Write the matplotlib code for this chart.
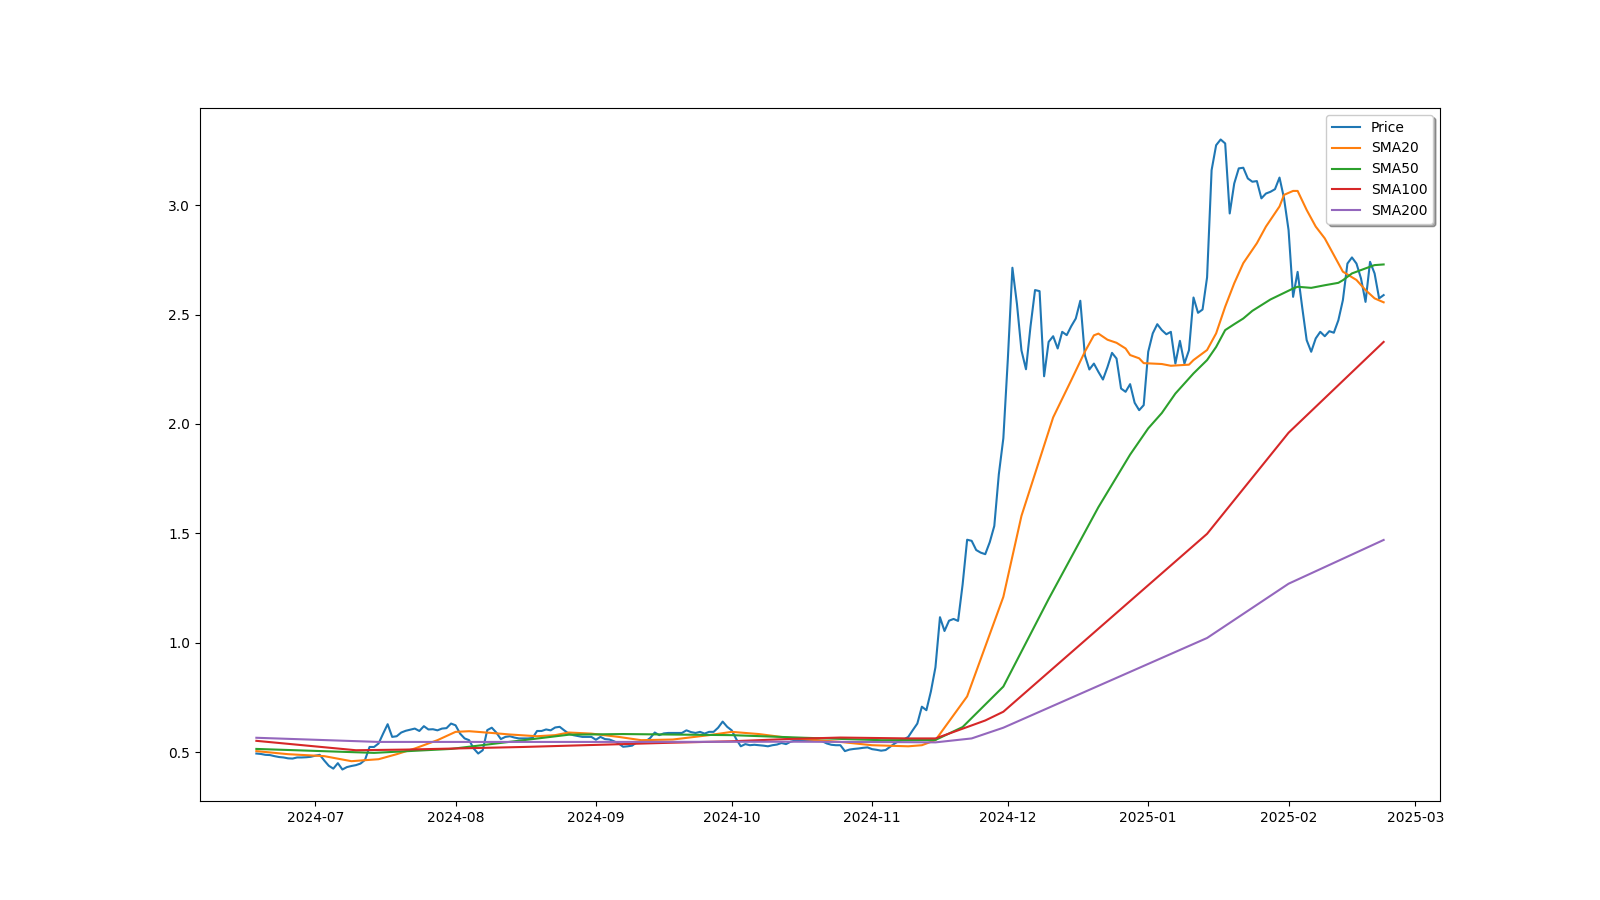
import matplotlib
matplotlib.use("Agg")
import matplotlib.pyplot as plt
import pandas as pd

start_date = "2024-06-18"
price = [
    0.494, 0.492, 0.488, 0.487, 0.482, 0.478, 0.476, 0.472, 0.471, 0.476,
    0.476, 0.477, 0.479, 0.484, 0.488, 0.462, 0.438, 0.425, 0.450, 0.421,
    0.432, 0.437, 0.441, 0.448, 0.465, 0.524, 0.524, 0.540, 0.585, 0.628,
    0.570, 0.573, 0.590, 0.598, 0.603, 0.608, 0.597, 0.619, 0.604, 0.605,
    0.600, 0.608, 0.610, 0.631, 0.623, 0.585, 0.563, 0.555, 0.517, 0.494,
    0.509, 0.601, 0.612, 0.590, 0.560, 0.570, 0.573, 0.567, 0.563, 0.563,
    0.563, 0.565, 0.597, 0.597, 0.604, 0.600, 0.613, 0.616, 0.600, 0.585,
    0.578, 0.574, 0.570, 0.570, 0.570, 0.557, 0.570, 0.560, 0.558, 0.550,
    0.540, 0.525, 0.527, 0.530, 0.545, 0.547, 0.550, 0.565, 0.590, 0.578,
    0.586, 0.588, 0.588, 0.588, 0.588, 0.600, 0.592, 0.588, 0.593, 0.585,
    0.593, 0.593, 0.612, 0.640, 0.616, 0.600, 0.560, 0.527, 0.537, 0.532,
    0.534, 0.532, 0.530, 0.527, 0.532, 0.535, 0.542, 0.537, 0.548, 0.553,
    0.556, 0.553, 0.555, 0.556, 0.553, 0.550, 0.540, 0.534, 0.532, 0.532,
    0.505, 0.512, 0.515, 0.517, 0.520, 0.522, 0.514, 0.511, 0.507, 0.510,
    0.525, 0.540, 0.552, 0.558, 0.570, 0.601, 0.631, 0.708, 0.692, 0.778,
    0.888, 1.117, 1.054, 1.101, 1.109, 1.100, 1.266, 1.471, 1.466, 1.424,
    1.412, 1.405, 1.460, 1.534, 1.770, 1.935, 2.300, 2.714, 2.549, 2.336,
    2.250, 2.446, 2.612, 2.607, 2.218, 2.375, 2.401, 2.345, 2.421, 2.406,
    2.447, 2.482, 2.563, 2.314, 2.249, 2.276, 2.238, 2.203, 2.260, 2.325,
    2.299, 2.162, 2.147, 2.182, 2.097, 2.063, 2.086, 2.330, 2.414, 2.456,
    2.429, 2.410, 2.421, 2.276, 2.380, 2.276, 2.337, 2.578, 2.508, 2.523,
    2.670, 3.160, 3.274, 3.300, 3.282, 2.962, 3.099, 3.168, 3.171, 3.122,
    3.107, 3.110, 3.031, 3.053, 3.061, 3.073, 3.126, 3.031, 2.886, 2.581,
    2.695, 2.535, 2.383, 2.330, 2.391, 2.421, 2.401, 2.424, 2.417, 2.474,
    2.566, 2.733, 2.761, 2.733, 2.665, 2.558, 2.741, 2.688, 2.574, 2.589,
]

sma20_dates = [
    "2024-06-18", "2024-06-25", "2024-07-03", "2024-07-09", "2024-07-15", "2024-07-19",
    "2024-07-23", "2024-07-28", "2024-08-01", "2024-08-04", "2024-08-09", "2024-08-13",
    "2024-08-19", "2024-08-23", "2024-08-26", "2024-08-31", "2024-09-06", "2024-09-11",
    "2024-09-18", "2024-09-26", "2024-10-01", "2024-10-07", "2024-10-13", "2024-10-18",
    "2024-10-25", "2024-11-01", "2024-11-09", "2024-11-12", "2024-11-15", "2024-11-22",
    "2024-11-30", "2024-12-04", "2024-12-11", "2024-12-15", "2024-12-18", "2024-12-20",
    "2024-12-21", "2024-12-23", "2024-12-25", "2024-12-27", "2024-12-28", "2024-12-30",
    "2024-12-31", "2025-01-04", "2025-01-06", "2025-01-10", "2025-01-11", "2025-01-14",
    "2025-01-16", "2025-01-18", "2025-01-20", "2025-01-22", "2025-01-25", "2025-01-27",
    "2025-01-30", "2025-01-31", "2025-02-02", "2025-02-03", "2025-02-05", "2025-02-07",
    "2025-02-09", "2025-02-11", "2025-02-13", "2025-02-16", "2025-02-18", "2025-02-20",
    "2025-02-22",
]
sma20 = [
    0.505, 0.491, 0.482, 0.459, 0.468, 0.491,
    0.517, 0.555, 0.593, 0.596, 0.588, 0.581,
    0.573, 0.578, 0.590, 0.585, 0.570, 0.555,
    0.558, 0.578, 0.593, 0.583, 0.567, 0.558,
    0.547, 0.532, 0.527, 0.532, 0.555, 0.755,
    1.210, 1.580, 2.030, 2.200, 2.330, 2.405,
    2.413, 2.385, 2.371, 2.345, 2.315, 2.300,
    2.278, 2.274, 2.266, 2.271, 2.292, 2.338,
    2.414, 2.536, 2.643, 2.735, 2.826, 2.902,
    2.994, 3.047, 3.065, 3.065, 2.978, 2.902,
    2.848, 2.772, 2.696, 2.658, 2.612, 2.574,
    2.556,
]

sma50_dates = [
    "2024-06-18", "2024-07-14", "2024-07-31", "2024-08-16", "2024-08-26", "2024-09-07",
    "2024-10-01", "2024-10-17", "2024-11-03", "2024-11-15", "2024-11-21", "2024-11-30",
    "2024-12-10", "2024-12-21", "2024-12-28", "2025-01-01",
    "2025-01-04", "2025-01-07", "2025-01-11", "2025-01-14", "2025-01-16", "2025-01-18",
    "2025-01-20", "2025-01-22", "2025-01-24", "2025-01-26", "2025-01-28", "2025-01-31",
    "2025-02-02", "2025-02-03", "2025-02-06", "2025-02-09", "2025-02-12", "2025-02-13",
    "2025-02-15", "2025-02-18", "2025-02-20", "2025-02-22",
]
sma50 = [
    0.515, 0.497, 0.515, 0.555, 0.580, 0.583,
    0.578, 0.566, 0.555, 0.556, 0.615, 0.800,
    1.200, 1.620, 1.860, 1.980,
    2.050, 2.139, 2.231, 2.292, 2.352, 2.429,
    2.456, 2.482, 2.517, 2.543, 2.569, 2.599,
    2.619, 2.627, 2.622, 2.634, 2.645, 2.657,
    2.688, 2.711, 2.726, 2.729,
]

sma100_dates = [
    "2024-06-18", "2024-07-10", "2024-07-21", "2024-08-16", "2024-09-17", "2024-10-01",
    "2024-10-13", "2024-10-25", "2024-11-09", "2024-11-15", "2024-11-18", "2024-11-22",
    "2024-11-26", "2024-11-30", "2025-01-14", "2025-02-01", "2025-02-22",
]
sma100 = [
    0.552, 0.509, 0.512, 0.524, 0.543, 0.550,
    0.560, 0.567, 0.563, 0.563, 0.585, 0.615,
    0.645, 0.685, 1.498, 1.960, 2.375,
]

sma200_dates = [
    "2024-06-18", "2024-07-15", "2024-09-01", "2024-10-15", "2024-11-08", "2024-11-15",
    "2024-11-23", "2024-11-30", "2025-01-14", "2025-02-01", "2025-02-22",
]
sma200 = [
    0.566, 0.547, 0.547, 0.548, 0.546, 0.545,
    0.563, 0.612, 1.022, 1.270, 1.470,
]

price_dates = pd.date_range(start_date, periods=len(price), freq="D")

fig, ax = plt.subplots(figsize=(16, 9), dpi=100)
ax.plot(price_dates, price, label="Price")
ax.plot(pd.to_datetime(sma20_dates), sma20, label="SMA20")
ax.plot(pd.to_datetime(sma50_dates), sma50, label="SMA50")
ax.plot(pd.to_datetime(sma100_dates), sma100, label="SMA100")
ax.plot(pd.to_datetime(sma200_dates), sma200, label="SMA200")
ax.legend(loc="upper right", shadow=True)

fig.savefig("out.png", dpi=100)
